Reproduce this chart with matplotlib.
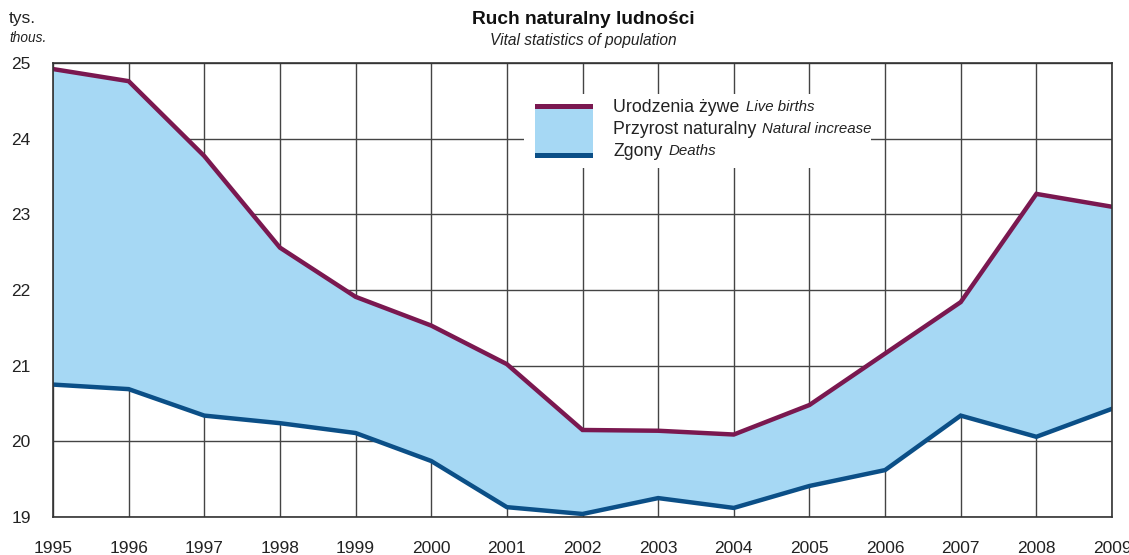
import matplotlib
matplotlib.use("Agg")
import matplotlib.pyplot as plt
from matplotlib.patches import Rectangle

years = list(range(1995, 2010))
births = [24.92, 24.76, 23.77, 22.56, 21.91, 21.53, 21.02, 20.15, 20.14, 20.09, 20.48, 21.16, 21.84, 23.27, 23.10]
deaths = [20.75, 20.69, 20.34, 20.24, 20.11, 19.74, 19.13, 19.04, 19.25, 19.12, 19.41, 19.62, 20.34, 20.06, 20.43]
yticks = [19, 20, 21, 22, 23, 24, 25]

C_BIRTH = "#7A1850"
C_DEATH = "#0B4F87"
C_FILL = "#A6D8F4"
C_GRID = "#444444"

plt.rcParams['font.family'] = ['Liberation Sans', 'DejaVu Sans']

W, H = 1129, 555
fig = plt.figure(figsize=(W/100, H/100), dpi=100)
L, R, T, B = 53, 1112, 63, 517
ax = fig.add_axes([L/W, 1-B/H, (R-L)/W, (B-T)/H])

ax.set_xlim(years[0], years[-1])
ax.set_ylim(19, 25)
ax.set_xticks(years)
ax.set_yticks(yticks)
ax.set_xticklabels([str(y) for y in years], fontsize=12.5, color="#222222")
ax.set_yticklabels([str(v) for v in yticks], fontsize=12.5, color="#222222")
ax.tick_params(axis='both', length=0)
ax.tick_params(axis='x', pad=17)
ax.tick_params(axis='y', pad=16)
ax.grid(True, color=C_GRID, linewidth=1.0, zorder=0)
ax.set_axisbelow(True)
for s in ax.spines.values():
    s.set_color("#333333")
    s.set_linewidth(1.2)
    s.set_zorder(5)

ax.fill_between(years, deaths, births, color=C_FILL, linewidth=0, zorder=2)
ax.plot(years, births, color=C_BIRTH, linewidth=3.2, zorder=3, solid_joinstyle='miter')
ax.plot(years, deaths, color=C_DEATH, linewidth=3.2, zorder=3, solid_joinstyle='miter')

# Legend (manual)
def px2ax(x, y):
    return ((x - L) / (R - L), (B - y) / (B - T))

x0, y0 = px2ax(524, 168)
x1, y1 = px2ax(871, 94)
ax.add_patch(Rectangle((x0, y0), x1 - x0, y1 - y0, transform=ax.transAxes,
                       facecolor="white", edgecolor="none", zorder=4))
px0, py0 = px2ax(535, 158)
px1, py1 = px2ax(593, 104)
ax.add_patch(Rectangle((px0, py0), px1 - px0, py1 - py0, transform=ax.transAxes,
                       facecolor=C_FILL, edgecolor="none", zorder=4.5))
bh = 5 / (B - T)
ax.add_patch(Rectangle((px0, py1 - bh), px1 - px0, bh, transform=ax.transAxes,
                       facecolor=C_BIRTH, edgecolor="none", zorder=4.6))
ax.add_patch(Rectangle((px0, py0), px1 - px0, bh, transform=ax.transAxes,
                       facecolor=C_DEATH, edgecolor="none", zorder=4.6))

rows = [("Urodzenia żywe", "Live births", 107),
        ("Przyrost naturalny", "Natural increase", 129),
        ("Zgony", "Deaths", 151)]
for pl, en, yy in rows:
    tx, ty = px2ax(613, yy)
    t = ax.text(tx, ty, pl, transform=ax.transAxes, fontsize=12.8, color="#222222",
                va='center', ha='left', zorder=6)
    ax.annotate(en, xy=(1, 0.5), xycoords=t, xytext=(4.5, 0), textcoords='offset points',
                fontsize=10.8, style='italic', color="#222222", va='center', ha='left', zorder=6)

fig.text(583/W, 1-19/H, "Ruch naturalny ludności", fontsize=13.8, fontweight='bold',
         ha='center', va='center', color="#111111")
fig.text(583/W, 1-40/H, "Vital statistics of population", fontsize=11.2, style='italic',
         ha='center', va='center', color="#222222")
fig.text(9/W, 1-19/H, "tys.", fontsize=12.5, ha='left', va='center', color="#222222")
fig.text(9/W, 1-38/H, "thous.", fontsize=9.8, style='italic', ha='left', va='center', color="#222222")

fig.savefig("out.png", dpi=100)
